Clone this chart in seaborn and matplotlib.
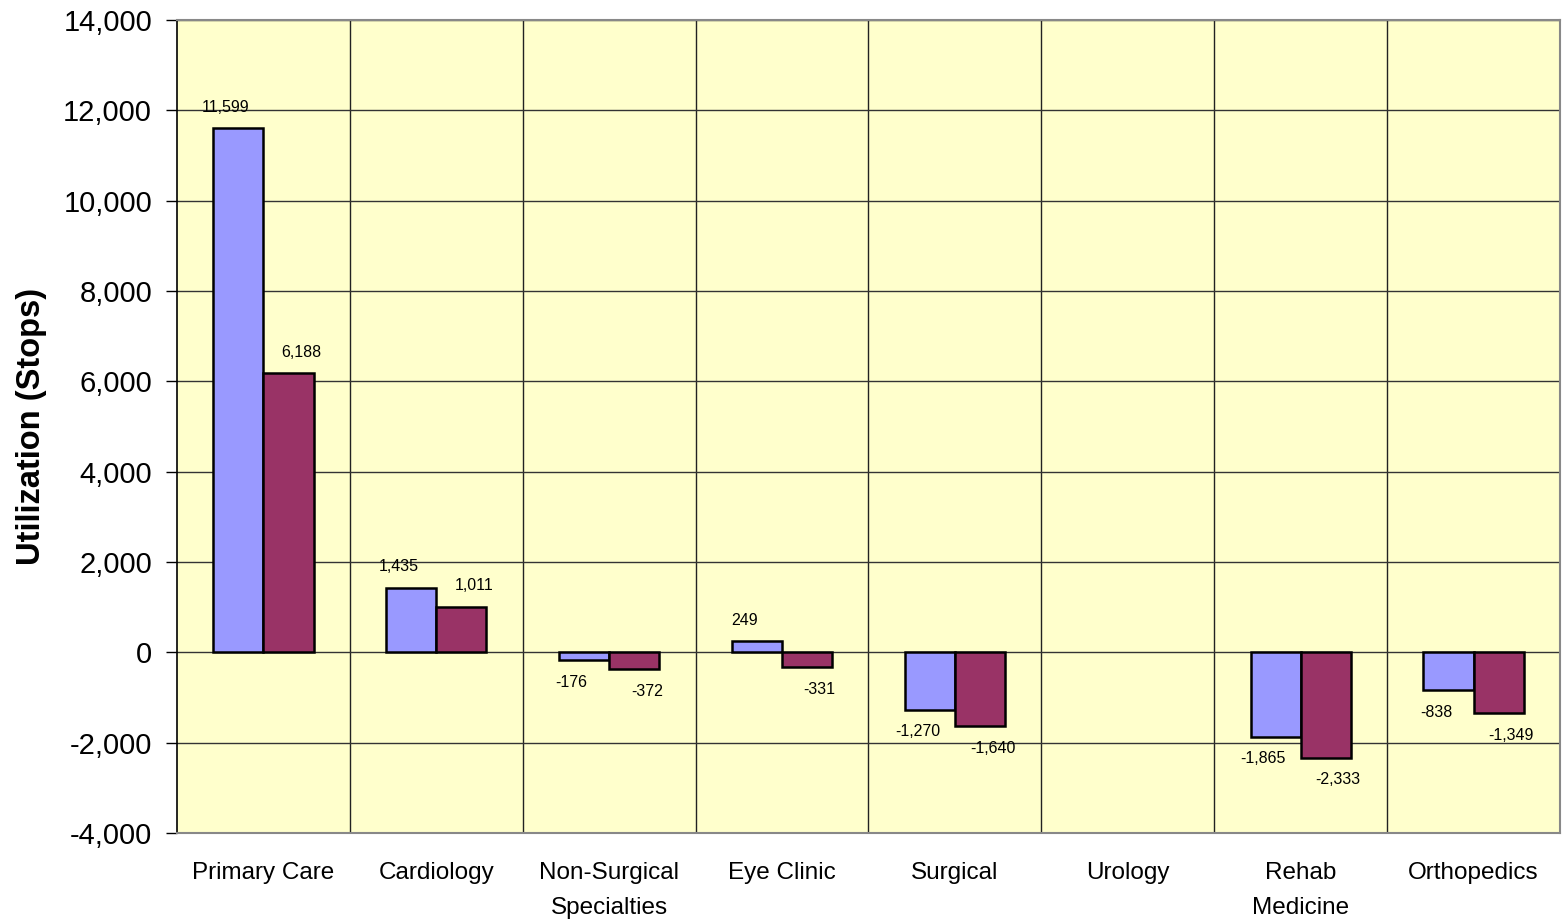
import matplotlib
matplotlib.use("Agg")
import matplotlib.pyplot as plt
import matplotlib.ticker as mticker
import numpy as np
import pandas as pd
import seaborn as sns

# Data
categories = ["Primary Care", "Cardiology", "Non-Surgical\nSpecialties", "Eye Clinic",
              "Surgical", "Urology", "Rehab\nMedicine", "Orthopedics"]
series_names = ["Series 1", "Series 2"]
series_1 = [11599, 1435, -176, 249, -1270, np.nan, -1865, -838]
series_2 = [6188, 1011, -372, -331, -1640, np.nan, -2333, -1349]
y_ticks = list(range(-4000, 14001, 2000))

colors = ["#9999FF", "#993366"]

sns.set_style("white", {"text.color": "black", "axes.labelcolor": "black",
                        "xtick.color": "black", "ytick.color": "black"})
plt.rcParams["font.family"] = ["Liberation Sans", "DejaVu Sans"]

df = pd.DataFrame({
    "category": categories * 2,
    "series": [series_names[0]] * len(categories) + [series_names[1]] * len(categories),
    "value": series_1 + series_2,
})

fig = plt.figure(figsize=(15.64, 9.22), dpi=100)
ax = fig.add_axes([0.1132, 0.0965, 0.8842, 0.8818])
ax.set_facecolor("#FFFFCC")

sns.barplot(
    data=df.dropna(),
    x="category",
    y="value",
    hue="series",
    order=categories,
    hue_order=series_names,
    palette=colors,
    edgecolor="black",
    linewidth=1.8,
    width=0.58,
    saturation=1,
    legend=False,
    ax=ax,
)

ax.set_ylim(-4000, 14000)
ax.set_xlim(-0.5, len(categories) - 0.5)
ax.set_yticks(y_ticks)
ax.yaxis.set_major_formatter(mticker.FuncFormatter(lambda v, p: f"{v:,.0f}"))

# gridlines: horizontal at each tick, vertical between categories
ax.set_xticks(np.arange(0.5, len(categories) - 0.5, 1), minor=True)
ax.grid(axis="y", which="major", color="#333333", linewidth=1)
ax.grid(axis="x", which="minor", color="#222222", linewidth=1)
ax.set_axisbelow(True)

ax.tick_params(axis="y", labelsize=21, length=8, width=1, direction="out", pad=10,
               left=True, colors="black")
ax.tick_params(axis="x", which="major", labelsize=17.5, length=0, pad=21, colors="black")
ax.tick_params(axis="x", which="minor", length=0)
for lbl in ax.get_xticklabels():
    lbl.set_linespacing(1.75)

ax.set_xlabel("")
ax.set_ylabel("Utilization (Stops)", fontsize=23.5, fontweight="bold", labelpad=12,
              color="black")

for side in ["top", "bottom", "right"]:
    ax.spines[side].set_color("#888888")
    ax.spines[side].set_linewidth(1.5)
ax.spines["left"].set_color("black")
ax.spines["left"].set_linewidth(1.2)

# data labels
x_shift = [-9, 9]
for i, container in enumerate(ax.containers):
    for bar in container:
        h = bar.get_height()
        if np.isnan(h):
            continue
        cx = bar.get_x() + bar.get_width() / 2
        dy = 15 if h >= 0 else -16
        ax.annotate(f"{h:,.0f}", (cx, h), xytext=(x_shift[i], dy),
                    textcoords="offset points", ha="center", va="center",
                    fontsize=11.5, color="black")

fig.savefig("out.png", dpi=100)
